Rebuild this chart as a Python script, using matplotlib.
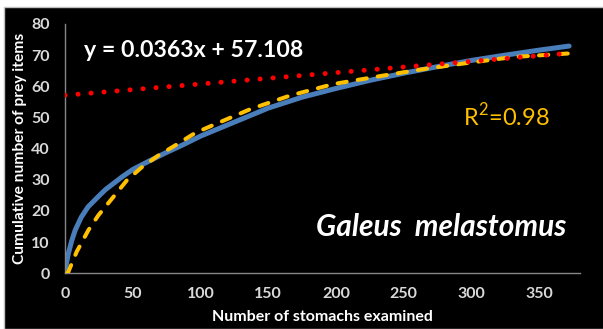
import matplotlib
matplotlib.use('Agg')
import matplotlib.pyplot as plt
from matplotlib.patches import Rectangle

# Datos
stomachs_obs = [0, 1, 2.5, 5, 7.5, 12, 17, 25, 30, 42, 50, 62, 75, 86, 100, 125,
                150, 175, 200, 225, 250, 275, 300, 325, 350, 372]
prey_obs = [0, 3, 6.4, 10.5, 13.8, 18, 21.3, 24.8, 26.9, 30.9, 33.3, 36, 38.8, 41,
            44, 48.5, 53, 56.5, 59.3, 61.9, 64.2, 66.3, 68.3, 70, 71.6, 72.9]

stomachs_fit = [1.5, 2.5, 8.6, 17.2, 24.6, 35.7, 45.6, 56.6, 68.9, 81.2, 96, 108,
                137, 166, 198, 233, 263, 294, 331, 371]
prey_fit = [0, 0.5, 6.9, 13.8, 18.6, 24.5, 29.8, 34, 37.8, 41, 45, 47.3,
            52.7, 57, 60.7, 63.3, 65.4, 67.3, 69.4, 70.5]

lin_x = [0, 372]
lin_slope = 0.0363
lin_intercept = 57.108
lin_y = [lin_slope * v + lin_intercept for v in lin_x]

xticks = [0, 50, 100, 150, 200, 250, 300, 350]
yticks = [0, 10, 20, 30, 40, 50, 60, 70, 80]

plt.rcParams['font.family'] = ['Lato', 'DejaVu Sans']
plt.rcParams['mathtext.fontset'] = 'custom'
plt.rcParams['mathtext.rm'] = 'Lato'

fig = plt.figure(figsize=(6.03, 3.29), dpi=100)
fig.patch.set_facecolor('white')
# Fondo negro del gráfico
fondo = Rectangle((4 / 603, 0), 1, 1 - 7 / 329, transform=fig.transFigure,
                  facecolor='black', edgecolor='#BFBFBF', lw=1, zorder=-10)
fig.add_artist(fondo)

ax = fig.add_axes([0.1078, 0.1693, 0.854, 0.758])
ax.set_facecolor('black')

ax.plot(stomachs_obs, prey_obs, color='#4A7EBB', lw=3.6, solid_capstyle='round', zorder=2)
ax.plot(stomachs_fit, prey_fit, color='#FFC000', lw=2.9, linestyle=(0, (2.3, 2.75)),
        dash_capstyle='round', zorder=3)
ax.plot(lin_x, lin_y, color='#FF0000', lw=3.6, linestyle=(0, (0.01, 2.6)),
        dash_capstyle='round', zorder=4)

ax.set_xlim(0, 380)
ax.set_ylim(0, 80)
ax.set_xticks(xticks)
ax.set_yticks(yticks)
ax.tick_params(length=0, colors='#D9D9D9', labelsize=11.5)
ax.tick_params(axis='x', pad=10)
ax.tick_params(axis='y', pad=11)
for lbl in ax.get_xticklabels() + ax.get_yticklabels():
    lbl.set_fontweight('bold')

for side in ['top', 'right']:
    ax.spines[side].set_visible(False)
for side in ['left', 'bottom']:
    ax.spines[side].set_color('#868686')
    ax.spines[side].set_linewidth(1)

ax.set_xlabel('Number of stomachs examined', color='white', fontsize=11.5,
              fontweight='bold', labelpad=6.5)
ax.set_ylabel('Cumulative number of prey items', color='white', fontsize=11.2,
              fontweight='bold', labelpad=3)

ax.text(14, 71.6, 'y = 0.0363x + 57.108', color='white', fontsize=16.7,
        fontweight='bold', va='center', ha='left')
ax.text(294, 50.5, 'R$^{2}$=0.98', color='#FFC000', fontsize=17, va='center', ha='left')
ax.text(185, 14.8, 'Galeus  melastomus', color='white', fontsize=21.5, fontstyle='italic',
        fontweight='bold', va='center', ha='left')

fig.savefig('out.png', dpi=100, facecolor=fig.get_facecolor())
plt.close(fig)
